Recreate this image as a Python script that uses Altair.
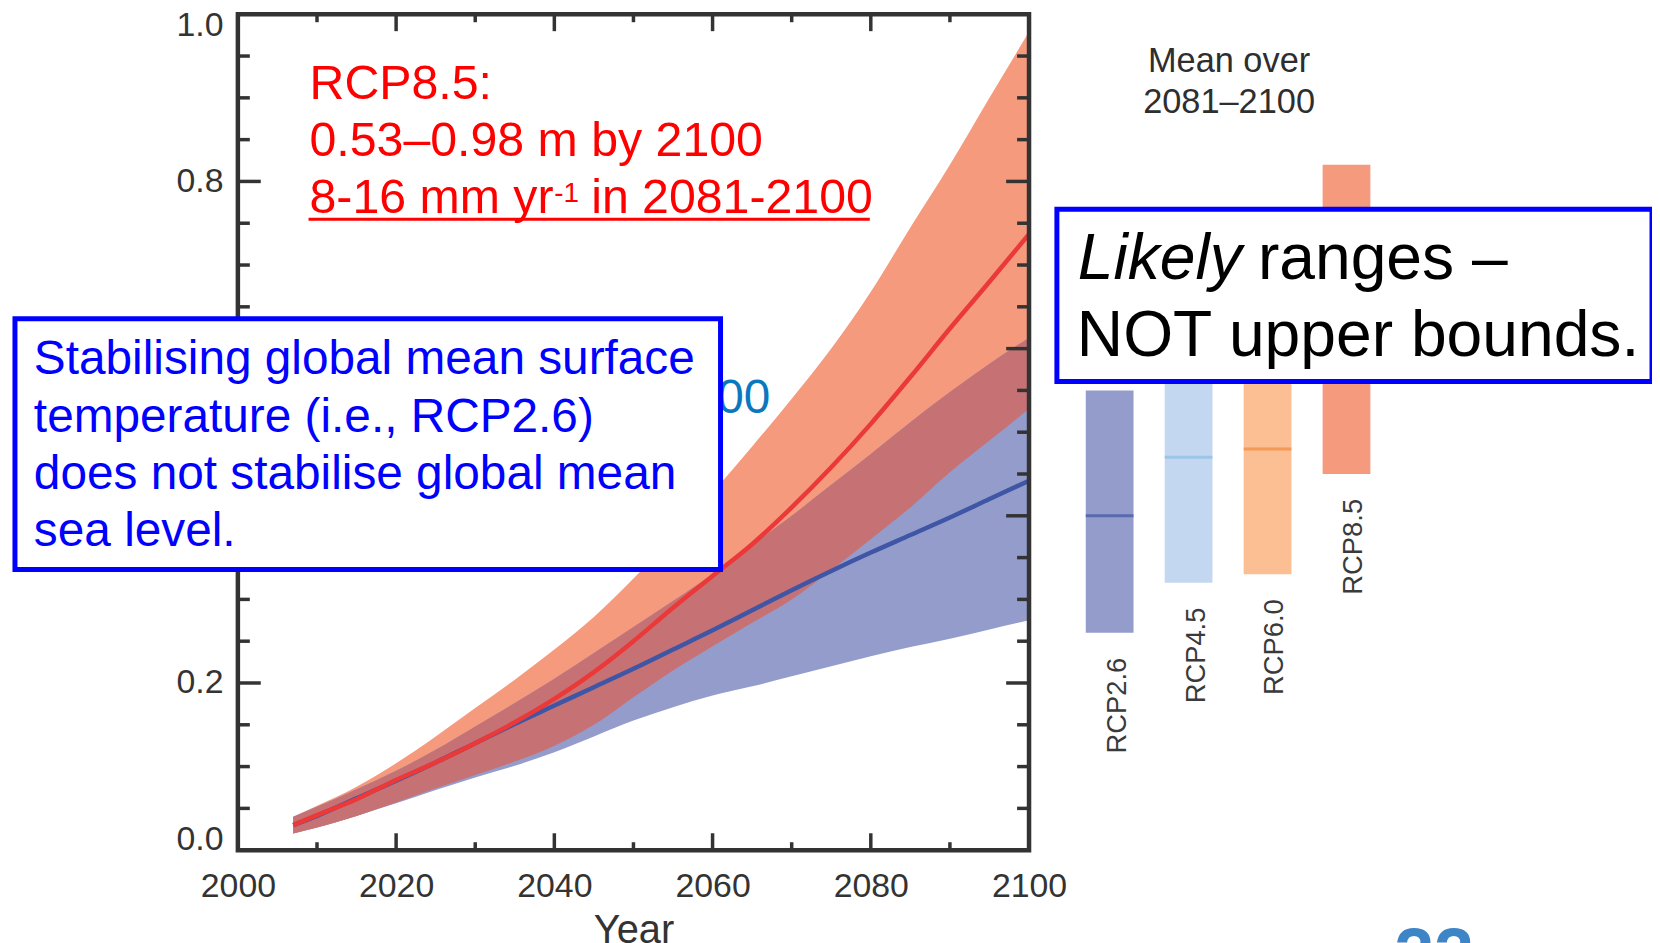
import altair as alt
import pandas as pd

FONT = "Liberation Sans, Arial, Helvetica, sans-serif"

# ---------------- data ----------------
years = [2007, 2010, 2015, 2020, 2025, 2030, 2035, 2040, 2045, 2050,
         2055, 2060, 2065, 2070, 2075, 2080, 2085, 2090, 2095, 2100]
rcp85_mean = [0.030, 0.042, 0.061, 0.084, 0.105, 0.128, 0.153, 0.181, 0.213, 0.250,
              0.290, 0.328, 0.366, 0.410, 0.458, 0.510, 0.566, 0.624, 0.680, 0.737]
rcp85_high = [0.040, 0.053, 0.076, 0.104, 0.136, 0.170, 0.204, 0.240, 0.279, 0.325,
              0.375, 0.428, 0.483, 0.540, 0.600, 0.668, 0.745, 0.820, 0.900, 0.979]
rcp85_low = [0.020, 0.027, 0.041, 0.057, 0.074, 0.090, 0.106, 0.125, 0.150, 0.183,
             0.215, 0.244, 0.272, 0.300, 0.335, 0.372, 0.410, 0.452, 0.490, 0.528]
rcp26_mean = [0.030, 0.041, 0.062, 0.083, 0.105, 0.128, 0.151, 0.173, 0.195, 0.217,
              0.240, 0.263, 0.287, 0.311, 0.334, 0.356, 0.377, 0.398, 0.420, 0.442]
rcp26_high = [0.040, 0.052, 0.073, 0.095, 0.120, 0.148, 0.176, 0.205, 0.236, 0.267,
              0.298, 0.330, 0.365, 0.400, 0.437, 0.474, 0.512, 0.548, 0.582, 0.613]
rcp26_low = [0.020, 0.027, 0.041, 0.056, 0.072, 0.087, 0.101, 0.117, 0.136, 0.155,
             0.171, 0.185, 0.196, 0.208, 0.220, 0.232, 0.243, 0.253, 0.264, 0.275]

scenarios = ["RCP2.6", "RCP4.5", "RCP6.0", "RCP8.5"]
mean_low = [0.26, 0.32, 0.33, 0.45]
mean_high = [0.55, 0.63, 0.63, 0.82]
mean_median = [0.40, 0.47, 0.48, 0.63]
bar_fill = ["#949CCB", "#C3D8F0", "#FBBF93", "#F69A7E"]
bar_median_color = ["#3F55A4", "#8CBDE6", "#F28A3C", "#E0483A"]

x_major = [2000, 2020, 2040, 2060, 2080, 2100]
x_minor = [2010, 2030, 2050, 2070, 2090]
y_major = [0.0, 0.2, 0.4, 0.6, 0.8, 1.0]
y_minor = [0.05, 0.10, 0.15, 0.25, 0.30, 0.35, 0.45, 0.50, 0.55,
           0.65, 0.70, 0.75, 0.85, 0.90, 0.95]

W, H = 795, 840
AX = "#333333"

df = pd.DataFrame({"year": years, "m85": rcp85_mean, "hi85": rcp85_high, "lo85": rcp85_low,
                   "m26": rcp26_mean, "hi26": rcp26_high, "lo26": rcp26_low})
bars_df = pd.DataFrame({"scenario": scenarios, "lo": mean_low, "hi": mean_high,
                        "med": mean_median, "fill": bar_fill, "medc": bar_median_color})
one = pd.DataFrame({"k": [0]})

xscale = alt.Scale(domain=[2000, 2100], nice=False, zero=False)
yscale = alt.Scale(domain=[0, 1], nice=False, zero=False)

x_axis = alt.Axis(values=x_major, format="d", title=None, grid=False, domain=False,
                  ticks=False, tickSize=0, labelFontSize=34, labelFont=FONT,
                  labelColor=AX, labelPadding=20, labelFlush=False)
y_axis = alt.Axis(values=y_major, format=".1f", title=None, grid=False, domain=False,
                  ticks=False, tickSize=0, labelFontSize=34, labelFont=FONT,
                  labelColor=AX, labelPadding=15, labelFlush=True, labelFlushOffset=6)


def X():
    return alt.X("year:Q", scale=xscale, axis=x_axis)


def Y(field):
    return alt.Y(field, scale=yscale, axis=y_axis)


base = alt.Chart(df)
band85 = base.mark_area(color="#F69A7E", interpolate="monotone").encode(
    x=X(), y=Y("lo85:Q"), y2="hi85:Q")
band26 = base.mark_area(color="#949CCB", interpolate="monotone").encode(
    x=X(), y=Y("lo26:Q"), y2="hi26:Q")
overlap = base.transform_calculate(
    ovlo="max(datum.lo85, datum.lo26)", ovhi="min(datum.hi85, datum.hi26)"
).mark_area(color="#C67274", interpolate="monotone").encode(
    x=X(), y=Y("ovlo:Q"), y2="ovhi:Q")
line26 = base.mark_line(color="#3F56A6", strokeWidth=4.5, interpolate="monotone").encode(
    x=X(), y=Y("m26:Q"))
line85 = base.mark_line(color="#EB3838", strokeWidth=4.5, interpolate="monotone").encode(
    x=X(), y=Y("m85:Q"))


def xticks(vals, length):
    d = pd.DataFrame({"year": vals})
    bottom = alt.Chart(d).mark_rule(color=AX, strokeWidth=3.5).encode(
        x=X(), y=alt.value(H), y2=alt.value(H - length))
    top = alt.Chart(d).mark_rule(color=AX, strokeWidth=3.5).encode(
        x=X(), y=alt.value(0), y2=alt.value(length))
    return [bottom, top]


def yticks(vals, length):
    d = pd.DataFrame({"v": vals})
    left = alt.Chart(d).mark_rule(color=AX, strokeWidth=3.5).encode(
        y=Y("v:Q"), x=alt.value(0), x2=alt.value(length))
    right = alt.Chart(d).mark_rule(color=AX, strokeWidth=3.5).encode(
        y=Y("v:Q"), x=alt.value(W), x2=alt.value(W - length))
    return [left, right]


frame = alt.Chart(one).mark_rect(filled=False, stroke=AX, strokeWidth=4.5).encode(
    x=alt.value(0), x2=alt.value(W), y=alt.value(0), y2=alt.value(H))

main = alt.layer(band85, band26, overlap, line26, line85,
                 *xticks(x_major, 17), *xticks(x_minor, 8),
                 *yticks(y_major, 23), *yticks(y_minor, 12), frame)

# ---------------- right-hand bars (same y scale) ----------------
xb = alt.X("scenario:N", sort=scenarios,
           scale=alt.Scale(domain=scenarios, range=[852, 1138], paddingInner=0.395, paddingOuter=0),
           axis=None)
bars = alt.Chart(bars_df).mark_bar().encode(
    x=xb, y=Y("lo:Q"), y2="hi:Q", color=alt.Color("fill:N", scale=None))
medians = alt.Chart(bars_df).mark_tick(orient="horizontal", thickness=3, size=48).encode(
    x=xb, y=Y("med:Q"), color=alt.Color("medc:N", scale=None))
bar_labels = alt.Chart(bars_df).mark_text(
    angle=270, align="right", baseline="middle", dx=-25, dy=8,
    fontSize=27.5, font=FONT, color="#3a3a3a").encode(
    x=xb, y=Y("lo:Q"), text="scenario:N")
barpanel = alt.layer(bars, medians, bar_labels)


# ---------------- annotations ----------------
def txt(x, y, text, **kw):
    props = dict(font=FONT, align="left", baseline="alphabetic")
    props.update(kw)
    return alt.Chart(one).mark_text(text=text, **props).encode(x=alt.value(x), y=alt.value(y))


mean_over = txt(996, 58, ["Mean over", "2081\u20132100"], align="center",
                fontSize=34.5, lineHeight=41, color="#2e2e2e")
hidden_blue = txt(535, 401, "0.28\u20130.61 m by 2100", align="right", fontSize=48, color="#0A78BE")

red = "#FF0000"
RF = 48.5
red_lines = txt(72, 85, ["RCP8.5:", "0.53\u20130.98 m by 2100"], fontSize=RF, lineHeight=57, color=red)
red_l3a = txt(72, 200, "8-16 mm yr", fontSize=RF, color=red)
red_sup = txt(318, 189, "-1", fontSize=28, color=red)
red_l3b = txt(355, 200, "in 2081-2100", fontSize=RF, color=red)
underline = alt.Chart(one).mark_rule(color=red, strokeWidth=3).encode(
    x=alt.value(71), x2=alt.value(635), y=alt.value(206))

box1 = alt.Chart(one).mark_rect(fill="white", stroke="#0000FF", strokeWidth=5).encode(
    x=alt.value(-224), x2=alt.value(485), y=alt.value(306), y2=alt.value(558))
box1_text = txt(-205, 362, ["Stabilising global mean surface", "temperature (i.e., RCP2.6)",
                            "does not stabilise global mean", "sea level."],
                fontSize=48, lineHeight=57.5, color="#0000FF")

box2 = alt.Chart(one).mark_rect(fill="white", stroke="#0000FF", strokeWidth=5).encode(
    x=alt.value(823), x2=alt.value(1421), y=alt.value(196), y2=alt.value(369))
box2_a = txt(844, 266, "Likely", fontSize=64.5, fontStyle="italic", color="black")
box2_b = txt(1025, 266, "ranges \u2013", fontSize=64.5, color="black")
box2_c = txt(843, 343, "NOT upper bounds.", fontSize=64.5, color="black")

year_title = txt(398, 933, "Year", align="center", fontSize=40, color=AX)
page_num = txt(1162, 969, "22", fontSize=72, fontWeight="bold", color="#3D85C6")

chart = alt.layer(
    main, hidden_blue, barpanel, mean_over, red_lines, red_l3a, red_sup, red_l3b, underline,
    box1, box1_text, box2, box2_a, box2_b, box2_c, year_title, page_num
).resolve_scale(x="independent").properties(
    width=W, height=H,
    autosize=alt.AutoSizeParams(type="none"),
    padding={"left": 231, "top": 4, "right": 626, "bottom": 91},
    background="white",
).configure_view(stroke=None)

chart.save("out.html", embed_options={"renderer": "svg", "actions": False})
